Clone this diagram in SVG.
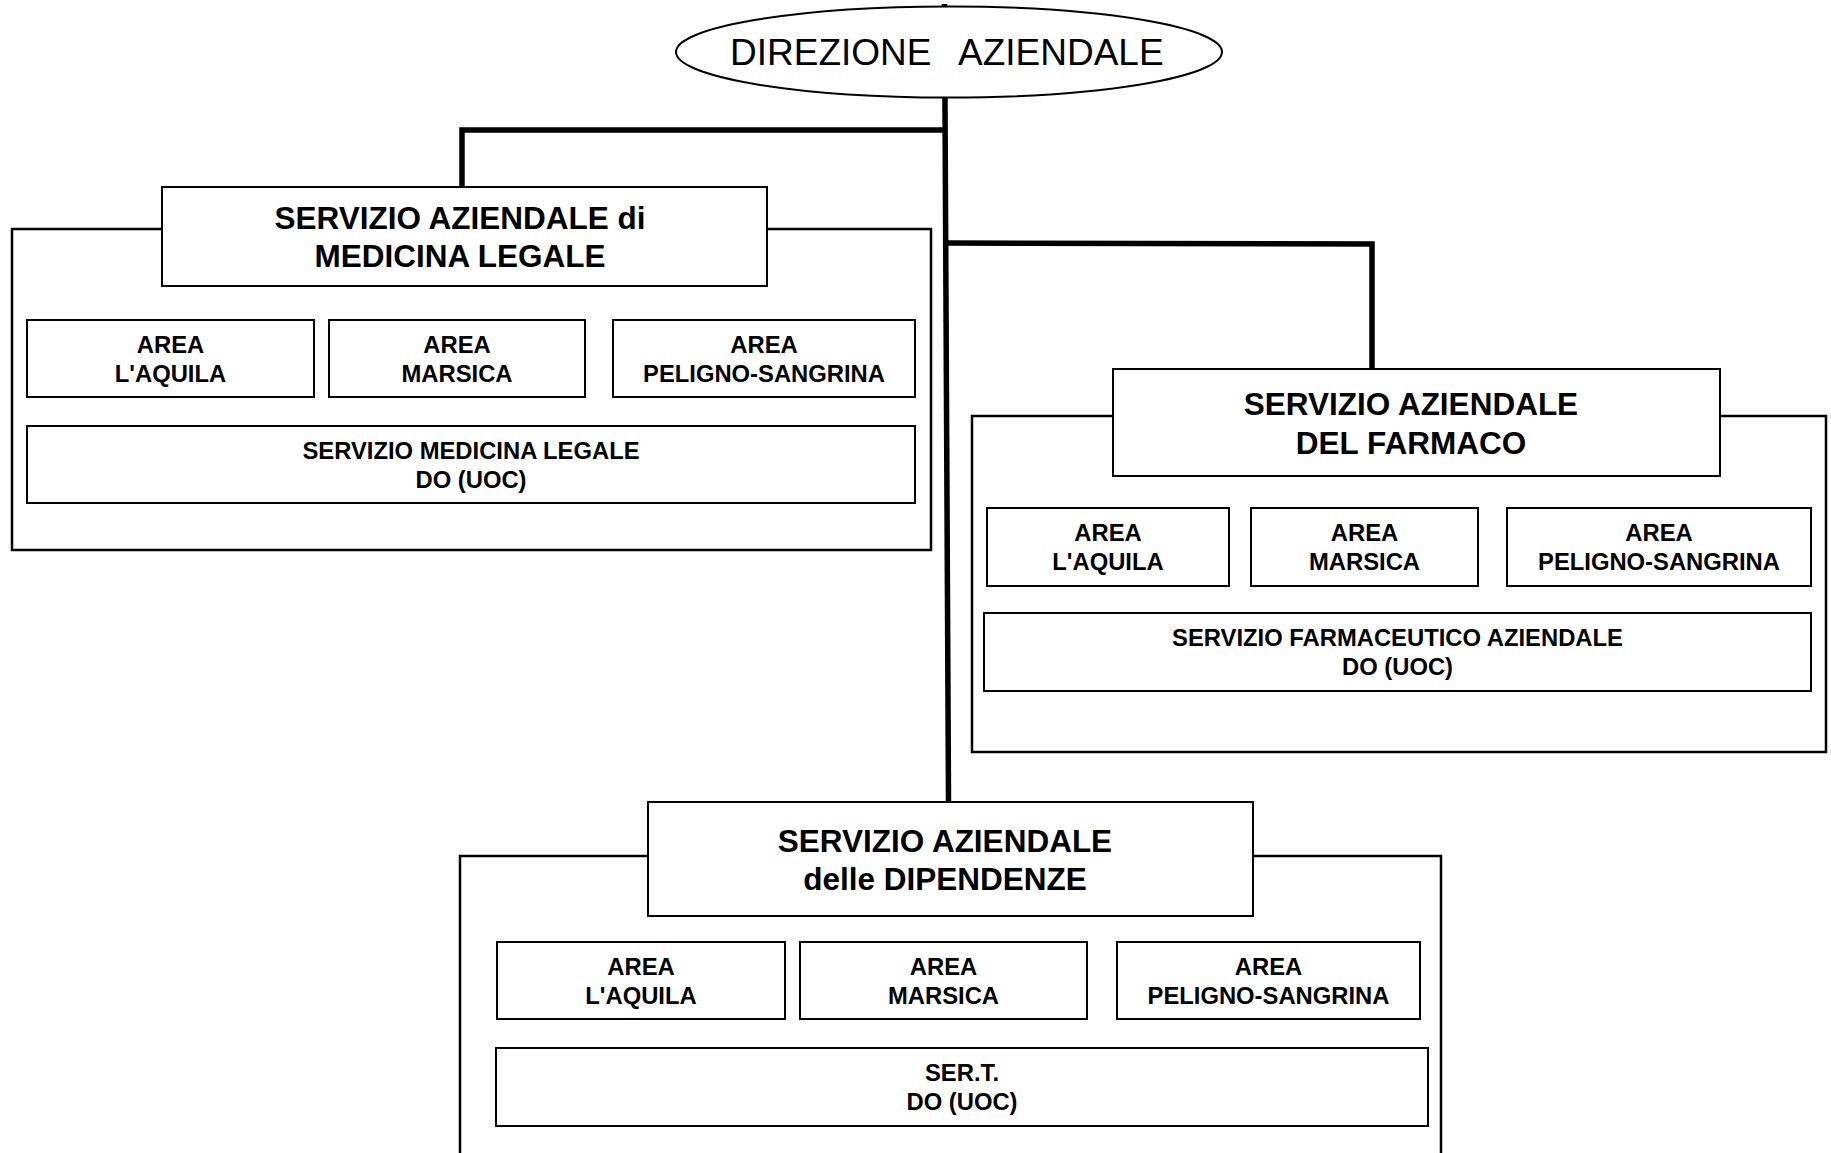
<svg xmlns="http://www.w3.org/2000/svg" width="1831" height="1153" viewBox="0 0 1831 1153">
<style>
.bx{fill:#fff;stroke:#000;stroke-width:2}
.fr{fill:none;stroke:#000;stroke-width:2.5}
.cn{fill:none;stroke:#000;stroke-width:5.5}
.h{font-family:"Liberation Sans",Arial,sans-serif;font-weight:bold;font-size:31.5px;text-anchor:middle;fill:#000}
.a{font-family:"Liberation Sans",Arial,sans-serif;font-weight:bold;font-size:23.8px;text-anchor:middle;fill:#000}
.d{font-family:"Liberation Sans",Arial,sans-serif;font-size:37px;fill:#000}
</style>
<rect width="1831" height="1153" fill="#fff"/>
<g id="connectors">
<path class="cn" d="M944.5 4 L948.5 802"/>
<path class="cn" d="M945 130 L462 130 L462 187"/>
<path class="cn" d="M946 243 L1372 244 L1372 369"/>
</g>
<g id="direzione">
<ellipse cx="949" cy="52" rx="273" ry="45.5" fill="#fff" stroke="#000" stroke-width="2"/>
<text class="d" y="65"><tspan x="730">DIREZIONE</tspan><tspan x="958">AZIENDALE</tspan></text>
</g>
<g id="medicina-legale">
<rect class="fr" x="12" y="229" width="919" height="321"/>
<rect class="bx" x="162" y="187" width="605" height="99"/>
<text class="h" x="460" y="229">SERVIZIO AZIENDALE di</text>
<text class="h" x="460" y="267">MEDICINA LEGALE</text>
</g>
<g id="ml-aquila"><rect class="bx" x="27" y="320" width="287" height="77"/><text class="a" x="170.5" y="353">AREA</text><text class="a" x="170.5" y="382">L'AQUILA</text></g>
<g id="ml-marsica"><rect class="bx" x="329" y="320" width="256" height="77"/><text class="a" x="457" y="353">AREA</text><text class="a" x="457" y="382">MARSICA</text></g>
<g id="ml-peligno"><rect class="bx" x="613" y="320" width="302" height="77"/><text class="a" x="764" y="353">AREA</text><text class="a" x="764" y="382">PELIGNO-SANGRINA</text></g>
<g id="ml-servizio"><rect class="bx" x="27" y="426" width="888" height="77"/><text class="a" x="471" y="459">SERVIZIO MEDICINA LEGALE</text><text class="a" x="471" y="488">DO (UOC)</text></g>

<g id="farmaco">
<rect class="fr" x="972" y="416" width="854" height="336"/>
<rect class="bx" x="1113" y="369" width="607" height="107"/>
<text class="h" x="1411" y="415">SERVIZIO AZIENDALE</text>
<text class="h" x="1411" y="454">DEL FARMACO</text>
</g>
<g id="f-aquila"><rect class="bx" x="987" y="508" width="242" height="78"/><text class="a" x="1108" y="541">AREA</text><text class="a" x="1108" y="570">L'AQUILA</text></g>
<g id="f-marsica"><rect class="bx" x="1251" y="508" width="227" height="78"/><text class="a" x="1364.5" y="541">AREA</text><text class="a" x="1364.5" y="570">MARSICA</text></g>
<g id="f-peligno"><rect class="bx" x="1507" y="508" width="304" height="78"/><text class="a" x="1659" y="541">AREA</text><text class="a" x="1659" y="570">PELIGNO-SANGRINA</text></g>
<g id="f-servizio"><rect class="bx" x="984" y="613" width="827" height="78"/><text class="a" x="1397.5" y="646">SERVIZIO FARMACEUTICO AZIENDALE</text><text class="a" x="1397.5" y="675">DO (UOC)</text></g>

<g id="dipendenze">
<rect class="fr" x="460" y="856" width="981" height="320"/>
<rect class="bx" x="648" y="802" width="605" height="114"/>
<text class="h" x="945" y="852">SERVIZIO AZIENDALE</text>
<text class="h" x="945" y="890">delle DIPENDENZE</text>
</g>
<g id="d-aquila"><rect class="bx" x="497" y="942" width="288" height="77"/><text class="a" x="641" y="975">AREA</text><text class="a" x="641" y="1004">L'AQUILA</text></g>
<g id="d-marsica"><rect class="bx" x="800" y="942" width="287" height="77"/><text class="a" x="943.5" y="975">AREA</text><text class="a" x="943.5" y="1004">MARSICA</text></g>
<g id="d-peligno"><rect class="bx" x="1117" y="942" width="303" height="77"/><text class="a" x="1268.5" y="975">AREA</text><text class="a" x="1268.5" y="1004">PELIGNO-SANGRINA</text></g>
<g id="d-sert"><rect class="bx" x="496" y="1048" width="932" height="78"/><text class="a" x="962" y="1081">SER.T.</text><text class="a" x="962" y="1110">DO (UOC)</text></g>
</svg>
